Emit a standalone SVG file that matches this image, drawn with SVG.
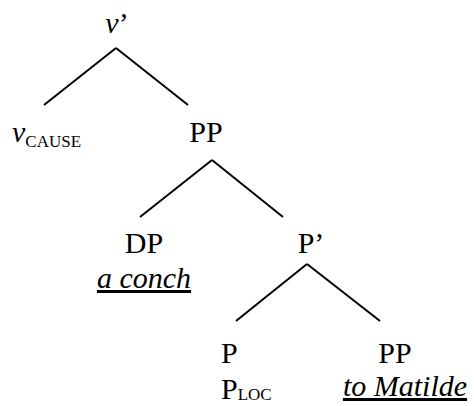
<svg xmlns="http://www.w3.org/2000/svg" width="474" height="406" viewBox="0 0 474 406">
<style>
text{font-family:'Liberation Serif','Times New Roman','DejaVu Serif',serif;font-size:30px;fill:#000}
.it{font-style:italic}
.ul{text-decoration:underline}
.sub{font-size:17px}
.edge{stroke:#000;stroke-width:2;fill:none;stroke-linecap:butt}
</style>
<rect width="474" height="406" fill="#fff"/>
<g id="connectors">
<line class="edge" x1="116" y1="48" x2="44" y2="105"/>
<line class="edge" x1="116" y1="48" x2="188" y2="105"/>
<line class="edge" x1="212" y1="160" x2="140" y2="217"/>
<line class="edge" x1="212" y1="160" x2="283" y2="217"/>
<line class="edge" x1="307" y1="264" x2="236" y2="321"/>
<line class="edge" x1="307" y1="264" x2="380" y2="321"/>
</g>
<g font-family="Liberation Serif, serif">
<g id="n-vbar"><text x="117" y="33" text-anchor="middle"><tspan class="it">v</tspan>’</text></g>
<g id="n-vcause"><text x="12" y="142"><tspan class="it">v</tspan><tspan class="sub" dy="5">CAUSE</tspan></text></g>
<g id="n-pp1"><text x="206" y="142" text-anchor="middle">PP</text></g>
<g id="n-dp"><text x="144" y="253" text-anchor="middle">DP</text><text class="it ul" x="144" y="288" text-anchor="middle">a conch</text></g>
<g id="n-pbar"><text x="311" y="253" text-anchor="middle">P’</text></g>
<g id="n-p"><text x="221" y="363">P</text><text x="221" y="399">P<tspan class="sub" dy="1">LOC</tspan></text></g>
<g id="n-pp2"><text x="395" y="363" text-anchor="middle">PP</text><text class="it ul" x="405" y="396" text-anchor="middle">to Matilde</text></g>
</g>
</svg>
